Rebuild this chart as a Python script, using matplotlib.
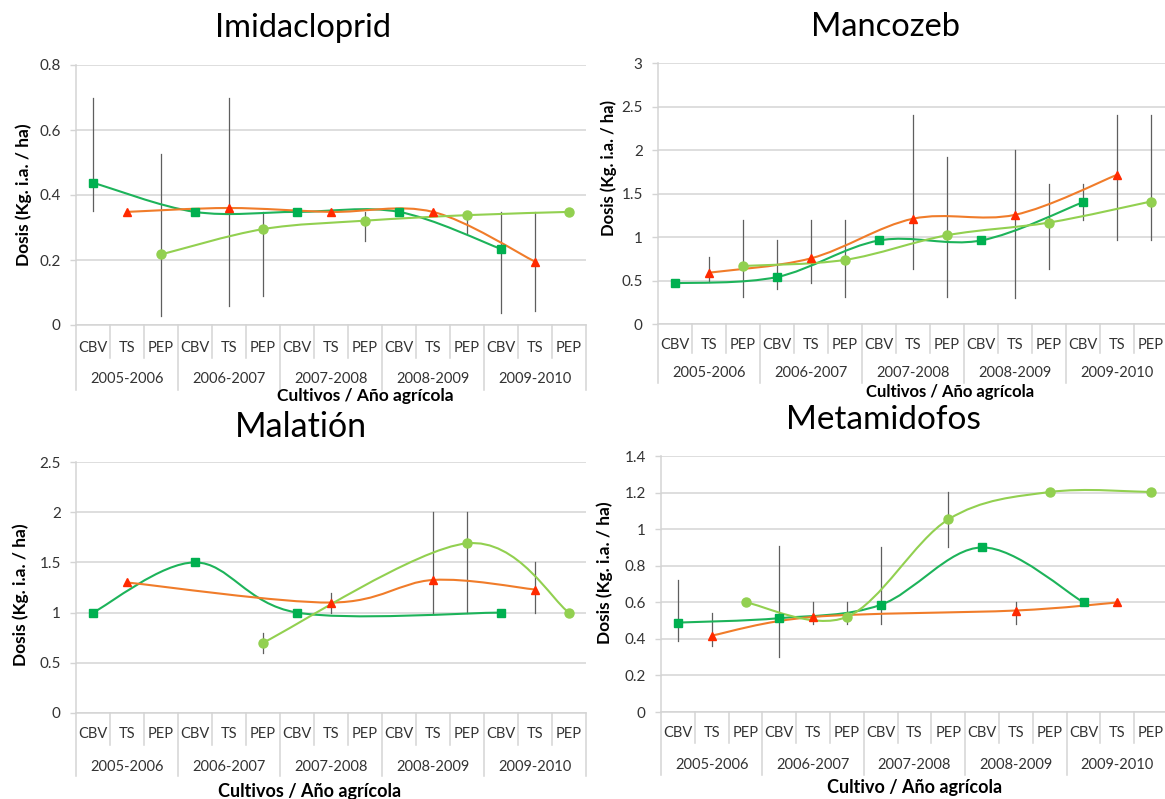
import numpy as np
import matplotlib
matplotlib.use('Agg')
import matplotlib.pyplot as plt
from matplotlib.path import Path
from matplotlib.patches import PathPatch
from matplotlib import transforms

plt.rcParams['font.family'] = ['Lato', 'DejaVu Sans']

W, H = 1165, 799

#------------------------------------------------------------------------------
# Categories: crop inside each agricultural season
crops = ['CBV', 'TS', 'PEP']
seasons = ['2005-2006', '2006-2007', '2007-2008', '2008-2009', '2009-2010']

# Mean doses per season (None = no data for that crop/season)
imid_cbv = [0.438, 0.348, 0.348, 0.348, 0.234]
imid_ts = [0.348, 0.36, 0.348, 0.348, 0.195]
imid_pep = [0.217, 0.295, 0.321, 0.338, 0.348]
imid_lo = [0.35, None, 0.027, None, 0.057, 0.088, None, None, 0.26, None, None, 0.284, 0.037, 0.044, None]
imid_hi = [0.70, None, 0.525, None, 0.70, 0.348, None, None, 0.348, None, None, 0.345, 0.348, 0.348, None]

manc_cbv = [0.468, 0.54, 0.96, 0.96, 1.40]
manc_ts = [0.59, 0.755, 1.21, 1.255, 1.715]
manc_pep = [0.667, 0.737, 1.02, 1.166, 1.408]
manc_lo = [None, 0.48, 0.31, 0.40, 0.47, 0.31, None, 0.63, 0.31, None, 0.30, 0.63, 1.2, 0.97, 0.97]
manc_hi = [None, 0.77, 1.2, 0.96, 1.2, 1.2, None, 2.4, 1.92, None, 2.0, 1.61, 1.61, 2.4, 2.4]

mala_cbv = [1.0, 1.5, 1.0, None, 1.0]
mala_ts = [1.30, None, 1.10, 1.325, 1.23]
mala_pep = [None, 0.70, None, 1.69, 1.0]
mala_lo = [None, None, None, None, None, 0.6, None, 1.0, None, None, 1.0, 1.0, None, 1.0, None]
mala_hi = [None, None, None, None, None, 0.8, None, 1.2, None, None, 2.0, 2.0, None, 1.5, None]

meta_cbv = [0.489, 0.513, 0.586, 0.90, 0.60]
meta_ts = [0.418, 0.52, None, 0.555, 0.599]
meta_pep = [0.60, 0.52, 1.053, 1.203, 1.203]
meta_lo = [0.39, 0.36, None, 0.30, 0.48, 0.48, 0.48, None, 0.90, None, 0.48, None, None, None, None]
meta_hi = [0.72, 0.54, None, 0.91, 0.60, 0.60, 0.90, None, 1.205, None, 0.60, None, None, None, None]

# line colour, marker colour, marker, marker size
styles = [('#1db35a', '#00b050', 's', 6.0),
          ('#f07c2a', '#ff2a00', '^', 5.5),
          ('#92d050', '#92d050', 'o', 6.5)]

GRID = '#d4d4d4'
TXT = '#333333'

fig = plt.figure(figsize=(W / 100, H / 100), dpi=100)


def smooth_line(ax, xs, ys, color):
    # Bezier segments through the points (Catmull-Rom style control points)
    pts = np.column_stack([xs, ys]).astype(float)
    n = len(pts)
    verts = [pts[0]]
    codes = [Path.MOVETO]
    for i in range(n - 1):
        p_prev = pts[i - 1] if i > 0 else pts[i]
        p_next = pts[i + 2] if i + 2 < n else pts[i + 1]
        c1 = pts[i] + (pts[i + 1] - p_prev) / 6
        c2 = pts[i + 1] - (p_next - pts[i]) / 6
        verts += [c1, c2, pts[i + 1]]
        codes += [Path.CURVE4] * 3
    ax.add_patch(PathPatch(Path(verts, codes), fill=False, edgecolor=color,
                           lw=1.5, zorder=3, capstyle='round'))


def draw_panel(box, ymax, ystep, series, lo, hi, title, title_xy, title_fs,
               ylab_xy, ylab_fs, xlabel, xlab_xy, xlab_fs,
               cat_depth, year_depth, cat_off, year_off):
    left, right, top, bottom = box
    ax = fig.add_axes([left / W, 1 - bottom / H, (right - left) / W, (bottom - top) / H])
    ax_h = bottom - top
    ax.set_xlim(-0.5, 14.5)
    ax.set_ylim(0, ymax)
    yt = np.round(np.arange(0, ymax + ystep / 2, ystep), 2)
    ax.set_yticks(yt)
    ax.set_yticklabels([f'{v:g}' for v in yt], fontsize=11, color=TXT)
    ax.tick_params(axis='y', length=4, width=1, color=GRID, pad=7)
    ax.set_xticks([])
    ax.grid(axis='y', color=GRID, lw=1.1, zorder=0)
    ax.set_axisbelow(True)
    for s in ['top', 'right']:
        ax.spines[s].set_visible(False)
    for s in ['left', 'bottom']:
        ax.spines[s].set_color(GRID)
        ax.spines[s].set_linewidth(1.1)

    # error bars (plain vertical lines, no caps)
    for i in range(15):
        if lo[i] is not None:
            ax.plot([i, i], [lo[i], hi[i]], color='#5f5f5f', lw=0.9, zorder=2)

    # series: smoothed line + markers
    for k, vals in enumerate(series):
        lc, mc, mk, ms = styles[k]
        xs = [3 * j + k for j in range(5) if vals[j] is not None]
        ys = [v for v in vals if v is not None]
        smooth_line(ax, xs, ys, lc)
        ax.plot(xs, ys, linestyle='none', marker=mk, ms=ms, color=mc,
                markeredgecolor=mc, zorder=4)

    # two-level category axis
    tr = transforms.blended_transform_factory(ax.transData, ax.transAxes)
    for b in range(16):
        depth = year_depth if b % 3 == 0 else cat_depth
        ax.plot([b - 0.5, b - 0.5], [0, -depth / ax_h], transform=tr,
                color=GRID, lw=1.1, clip_on=False)
    for i in range(15):
        ax.text(i, -cat_off / ax_h, crops[i % 3], transform=tr, ha='center',
                va='center', fontsize=10.5, color=TXT)
    for j, yr in enumerate(seasons):
        ax.text(3 * j + 1, -year_off / ax_h, yr, transform=tr, ha='center',
                va='center', fontsize=10.5, color=TXT)

    fig.text(title_xy[0] / W, 1 - title_xy[1] / H, title, ha='center',
             va='center', fontsize=title_fs, color='black')
    fig.text(ylab_xy[0] / W, 1 - ylab_xy[1] / H, 'Dosis (Kg. i.a. / ha)',
             rotation=90, ha='center', va='center', fontsize=ylab_fs,
             fontweight='bold', color='black')
    fig.text(xlab_xy[0] / W, 1 - xlab_xy[1] / H, xlabel, ha='center',
             va='center', fontsize=xlab_fs, fontweight='bold', color='black')
    return ax


#------------------------------------------------------------------------------
draw_panel((76, 586, 65, 325), 0.8, 0.2, [imid_cbv, imid_ts, imid_pep],
           imid_lo, imid_hi, 'Imidacloprid', (303, 28), 23.5, (24, 195), 12.5,
           'Cultivos / Año agrícola', (365, 396), 12.5, 33, 65, 23, 54)

draw_panel((658, 1168, 63, 324), 3, 0.5, [manc_cbv, manc_ts, manc_pep],
           manc_lo, manc_hi, 'Mancozeb', (886, 27), 23.5, (609, 168), 12,
           'Cultivos / Año agrícola', (950, 392), 12, 29, 59, 21, 49)

draw_panel((76, 586, 462, 713), 2.5, 0.5, [mala_cbv, mala_ts, mala_pep],
           mala_lo, mala_hi, 'Malatión', (301, 427), 24.5, (21, 595), 12.5,
           'Cultivos / Año agrícola', (310, 792), 13, 32, 63, 21, 54)

draw_panel((661, 1168, 456, 712), 1.4, 0.2, [meta_cbv, meta_ts, meta_pep],
           meta_lo, meta_hi, 'Metamidofos', (883, 420), 24, (605, 573), 12.5,
           'Cultivo / Año agrícola', (915, 788), 13, 31, 63, 21, 53)

fig.savefig('out.png', dpi=100)
